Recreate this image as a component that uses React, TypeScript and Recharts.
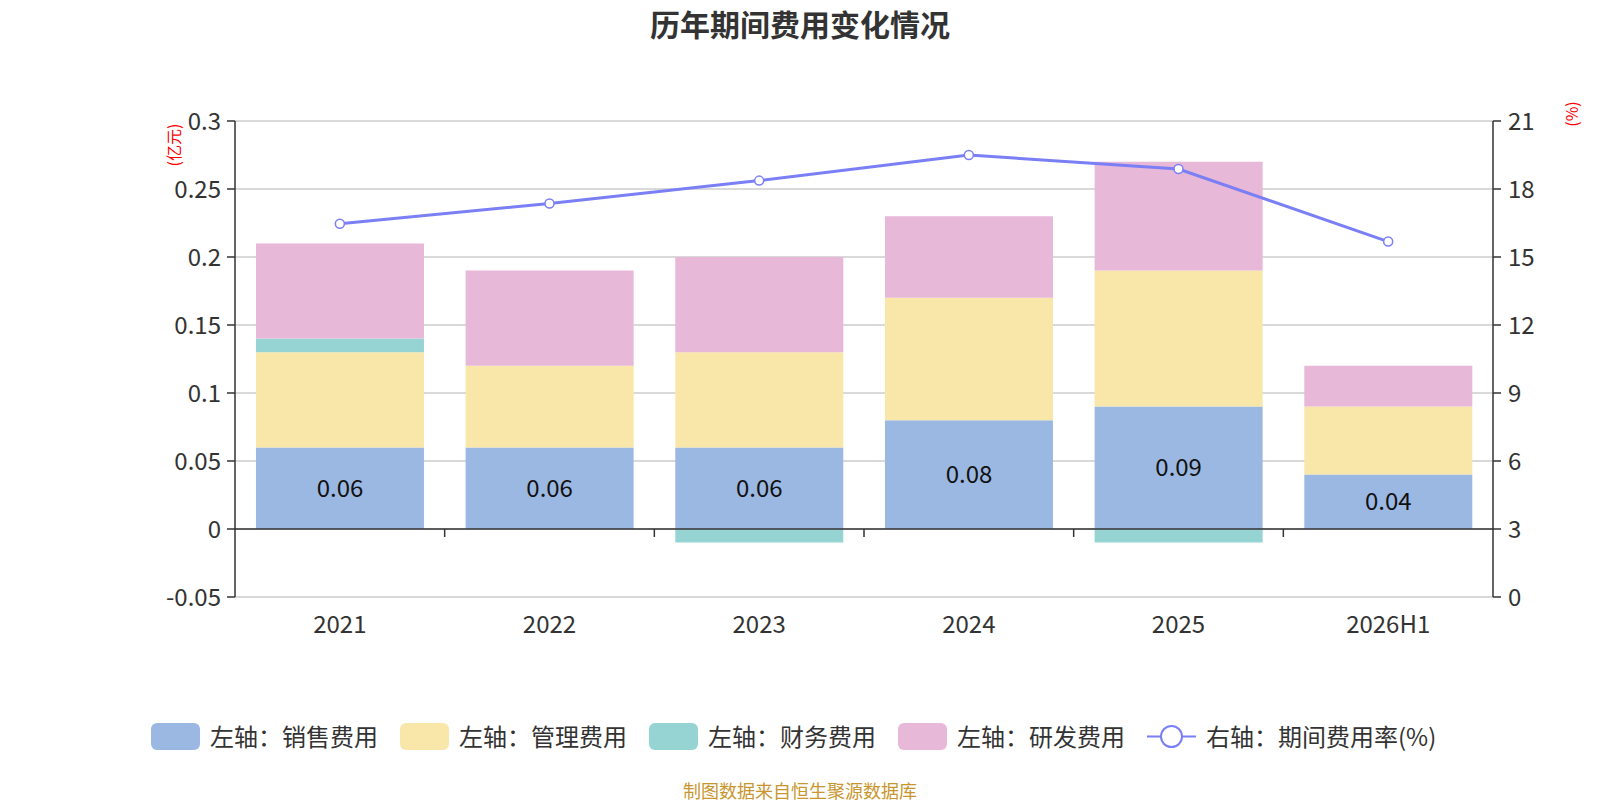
import React from 'react';
import {
  ComposedChart, Bar, Line, XAxis, YAxis, CartesianGrid, ReferenceLine, LabelList,
} from 'recharts';

const categories = ['2021', '2022', '2023', '2024', '2025', '2026H1'];
const salesExp = [0.06, 0.06, 0.06, 0.08, 0.09, 0.04];
const adminExp = [0.07, 0.06, 0.07, 0.09, 0.10, 0.05];
const financeExp = [0.01, 0, -0.01, 0, -0.01, 0];
const rdExp = [0.07, 0.07, 0.07, 0.06, 0.08, 0.03];
const expenseRate = [16.47, 17.36, 18.37, 19.5, 18.88, 15.68];
const leftTicks = [-0.05, 0, 0.05, 0.1, 0.15, 0.2, 0.25, 0.3];
const rightTicks = [0, 3, 6, 9, 12, 15, 18, 21];

const data = categories.map((c, i) => ({
  name: c,
  sales: salesExp[i],
  admin: adminExp[i],
  finance: financeExp[i],
  rd: rdExp[i],
  rate: expenseRate[i],
}));

const FONT = '"Noto Sans CJK SC", "Noto Sans", sans-serif';
const C_BLUE = '#9bb8e2';
const C_YELLOW = '#f8e7a9';
const C_TEAL = '#96d4d4';
const C_PINK = '#e7b8d8';
const C_LINE = '#7b7ff6';

const legendItems = [
  { label: '左轴：销售费用', color: C_BLUE, type: 'rect' },
  { label: '左轴：管理费用', color: C_YELLOW, type: 'rect' },
  { label: '左轴：财务费用', color: C_TEAL, type: 'rect' },
  { label: '左轴：研发费用', color: C_PINK, type: 'rect' },
  { label: '右轴：期间费用率(%)', color: C_LINE, type: 'line' },
];

const ZeroLine = (props: any) => {
  const { x1, y1, x2, y2 } = props;
  const n = categories.length;
  const ticks = [];
  for (let i = 1; i < n; i++) {
    const x = x1 + ((x2 - x1) * i) / n;
    ticks.push(<line key={i} x1={x} y1={y1} x2={x} y2={y1 + 8} stroke="#333" strokeWidth={1.5} />);
  }
  return (
    <g>
      <line x1={x1} y1={y1} x2={x2} y2={y2} stroke="#333" strokeWidth={1.5} />
      {ticks}
    </g>
  );
};

const XTick = (props: any) => {
  const { x, y, payload } = props;
  return (
    <text x={x} y={y + 23} textAnchor="middle" dominantBaseline="central" fill="#333" fontSize={24} fontFamily={FONT}>
      {payload.value}
    </text>
  );
};

const fmtLeft = (v: number) => {
  if (v === 0) return '0';
  return String(Number(v.toFixed(2)));
};

export default function App() {
  return (
    <div style={{ position: 'absolute', left: 0, top: 0, width: 1600, height: 800, background: '#fff', fontFamily: FONT }}>
      <div style={{ position: 'absolute', left: 0, top: 4, width: 1600, textAlign: 'center', fontSize: 30, fontWeight: 'bold', color: '#333', lineHeight: '38px' }}>
        历年期间费用变化情况
      </div>
      <ComposedChart
        width={1600}
        height={800}
        data={data}
        stackOffset="sign"
        barCategoryGap="10%"
        margin={{ top: 121, right: 0, bottom: 163, left: 0 }}
      >
        <CartesianGrid yAxisId="left" vertical={false} stroke="#cccccc" strokeWidth={1.5} />
        <XAxis
          dataKey="name"
          height={40}
          axisLine={false}
          tickLine={false}
          tickSize={0}
          tick={<XTick />}
          interval={0}
        />
        <YAxis
          yAxisId="left"
          width={235}
          domain={[-0.05, 0.3]}
          ticks={leftTicks}
          interval={0}
          tickFormatter={fmtLeft}
          axisLine={{ stroke: '#333', strokeWidth: 1.5 }}
          tickLine={{ stroke: '#333', strokeWidth: 1.5 }}
          tickSize={8}
          tickMargin={6}
          tick={{ fill: '#333', fontSize: 24, fontFamily: FONT }}
          allowDataOverflow
        />
        <YAxis
          yAxisId="right"
          orientation="right"
          width={107}
          domain={[0, 21]}
          ticks={rightTicks}
          interval={0}
          axisLine={{ stroke: '#333', strokeWidth: 1.5 }}
          tickLine={{ stroke: '#333', strokeWidth: 1.5 }}
          tickSize={8}
          tickMargin={7}
          tick={{ fill: '#333', fontSize: 24, fontFamily: FONT }}
          allowDataOverflow
        />
        <ReferenceLine yAxisId="left" y={0} shape={<ZeroLine />} />
        <Bar yAxisId="left" dataKey="sales" stackId="a" fill={C_BLUE} isAnimationActive={false}>
          <LabelList dataKey="sales" position="center" fill="#111" fontSize={24} fontFamily={FONT} formatter={(v: any) => Number(v).toFixed(2)} />
        </Bar>
        <Bar yAxisId="left" dataKey="admin" stackId="a" fill={C_YELLOW} isAnimationActive={false} />
        <Bar yAxisId="left" dataKey="finance" stackId="a" fill={C_TEAL} isAnimationActive={false} />
        <Bar yAxisId="left" dataKey="rd" stackId="a" fill={C_PINK} isAnimationActive={false} />
        <Line
          yAxisId="right"
          dataKey="rate"
          stroke={C_LINE}
          strokeWidth={3}
          dot={{ r: 4.5, fill: '#fff', stroke: C_LINE, strokeWidth: 1.5 }}
          activeDot={false}
          isAnimationActive={false}
        />
        <text x={173} y={145} transform="rotate(-90 173 145)" textAnchor="middle" dominantBaseline="central" fill="red" fontSize={16} fontFamily={FONT}>
          (亿元)
        </text>
        <text x={1571} y={114} transform="rotate(-90 1571 114)" textAnchor="middle" dominantBaseline="central" fill="red" fontSize={16} fontFamily={FONT}>
          (%)
        </text>
      </ComposedChart>
      <div style={{ position: 'absolute', left: 151, top: 716, height: 40, display: 'flex', alignItems: 'center', whiteSpace: 'nowrap' }}>
        {legendItems.map((it, i) => (
          <div key={i} style={{ display: 'flex', alignItems: 'center', marginRight: i < legendItems.length - 1 ? 22 : 0 }}>
            {it.type === 'rect' ? (
              <div style={{ width: 49, height: 27, borderRadius: 6, background: it.color }} />
            ) : (
              <svg width={49} height={27}>
                <line x1={0} y1={13.5} x2={49} y2={13.5} stroke={it.color} strokeWidth={2} />
                <circle cx={24.5} cy={13.5} r={10.5} fill="#fff" stroke={it.color} strokeWidth={2} />
              </svg>
            )}
            <span style={{ marginLeft: 10, fontSize: 24, color: '#333', lineHeight: '30px' }}>{it.label}</span>
          </div>
        ))}
      </div>
      <div style={{ position: 'absolute', left: 0, top: 778, width: 1600, textAlign: 'center', fontSize: 18, color: '#c8962e', lineHeight: '24px' }}>
        制图数据来自恒生聚源数据库
      </div>
    </div>
  );
}
